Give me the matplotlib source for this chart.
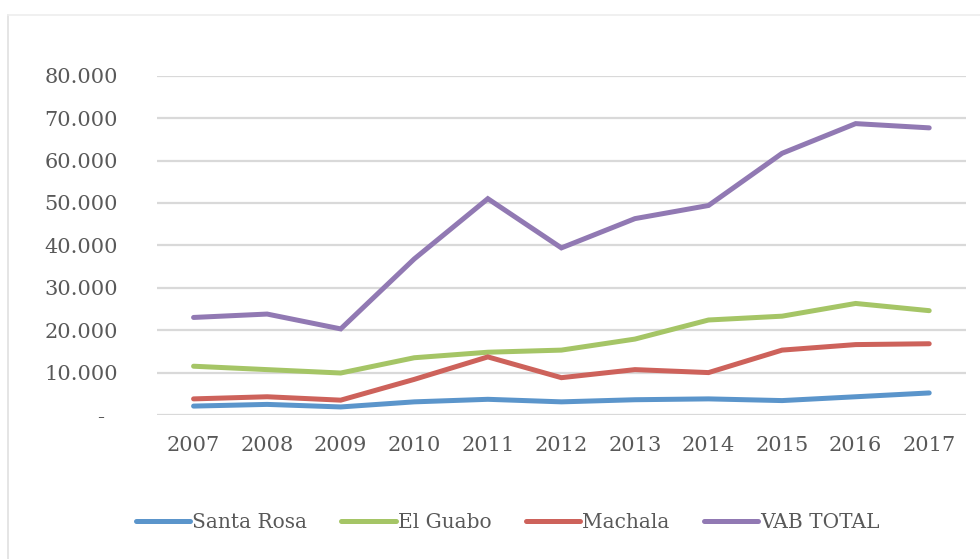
import matplotlib
matplotlib.use('Agg')
import matplotlib.pyplot as plt
from matplotlib.lines import Line2D
from matplotlib.ticker import FuncFormatter

years = ['2007', '2008', '2009', '2010', '2011', '2012', '2013', '2014', '2015', '2016', '2017']
santa_rosa = [2100, 2500, 1900, 3100, 3700, 3100, 3600, 3800, 3400, 4300, 5200]
el_guabo = [11500, 10700, 9900, 13500, 14800, 15300, 17900, 22400, 23300, 26300, 24600]
machala = [3800, 4300, 3500, 8400, 13700, 8800, 10700, 10000, 15300, 16600, 16800]
vab_total = [23000, 23800, 20300, 36800, 51000, 39400, 46300, 49400, 61700, 68700, 67700]

series = [
    ('Santa Rosa', santa_rosa, '#5b95cb'),
    ('El Guabo', el_guabo, '#a5c566'),
    ('Machala', machala, '#cd625b'),
    ('VAB TOTAL', vab_total, '#9179b3'),
]

plt.rcParams['font.family'] = ['DejaVu Serif']
text_color = '#595959'

fig = plt.figure(figsize=(9.8, 5.59), dpi=100)
ax = fig.add_axes([0.160, 0.2576, 0.8257, 0.607])

x = list(range(len(years)))
for name, vals, color in series:
    ax.plot(x, vals, color=color, lw=3.6, label=name,
            solid_capstyle='round', solid_joinstyle='miter')

ax.set_xlim(-0.5, len(years) - 0.5)
ax.set_ylim(0, 80000)
ax.set_yticks(range(0, 80001, 10000))
# Excel accounting style: zero shown as a dash, dot as thousands separator
ax.yaxis.set_major_formatter(FuncFormatter(
    lambda v, p: '-  ' if v == 0 else f'{int(v):,}'.replace(',', '.')))
ax.set_xticks(x)
ax.set_xticklabels(years)
ax.grid(axis='y', color='#d9d9d9', lw=1.6)
ax.set_axisbelow(True)
for s in ax.spines.values():
    s.set_visible(False)
ax.tick_params(axis='both', length=0, labelsize=15, colors=text_color)
ax.tick_params(axis='y', pad=28)
ax.tick_params(axis='x', pad=15)

leg = fig.legend(loc='center', bbox_to_anchor=(0.518, 0.066), ncol=4,
                 frameon=False, fontsize=14.5, handlelength=2.7,
                 handletextpad=0.1, columnspacing=1.7)
for t in leg.get_texts():
    t.set_color(text_color)

# chart area border (light frame at left and top)
fig.add_artist(Line2D([8 / 980, 8 / 980], [0, 1 - 15 / 559],
                      transform=fig.transFigure, color='#e0e0e0', lw=1.2))
fig.add_artist(Line2D([8 / 980, 1], [1 - 15 / 559, 1 - 15 / 559],
                      transform=fig.transFigure, color='#eeeeee', lw=1.2))

fig.savefig('out.png', dpi=100)
